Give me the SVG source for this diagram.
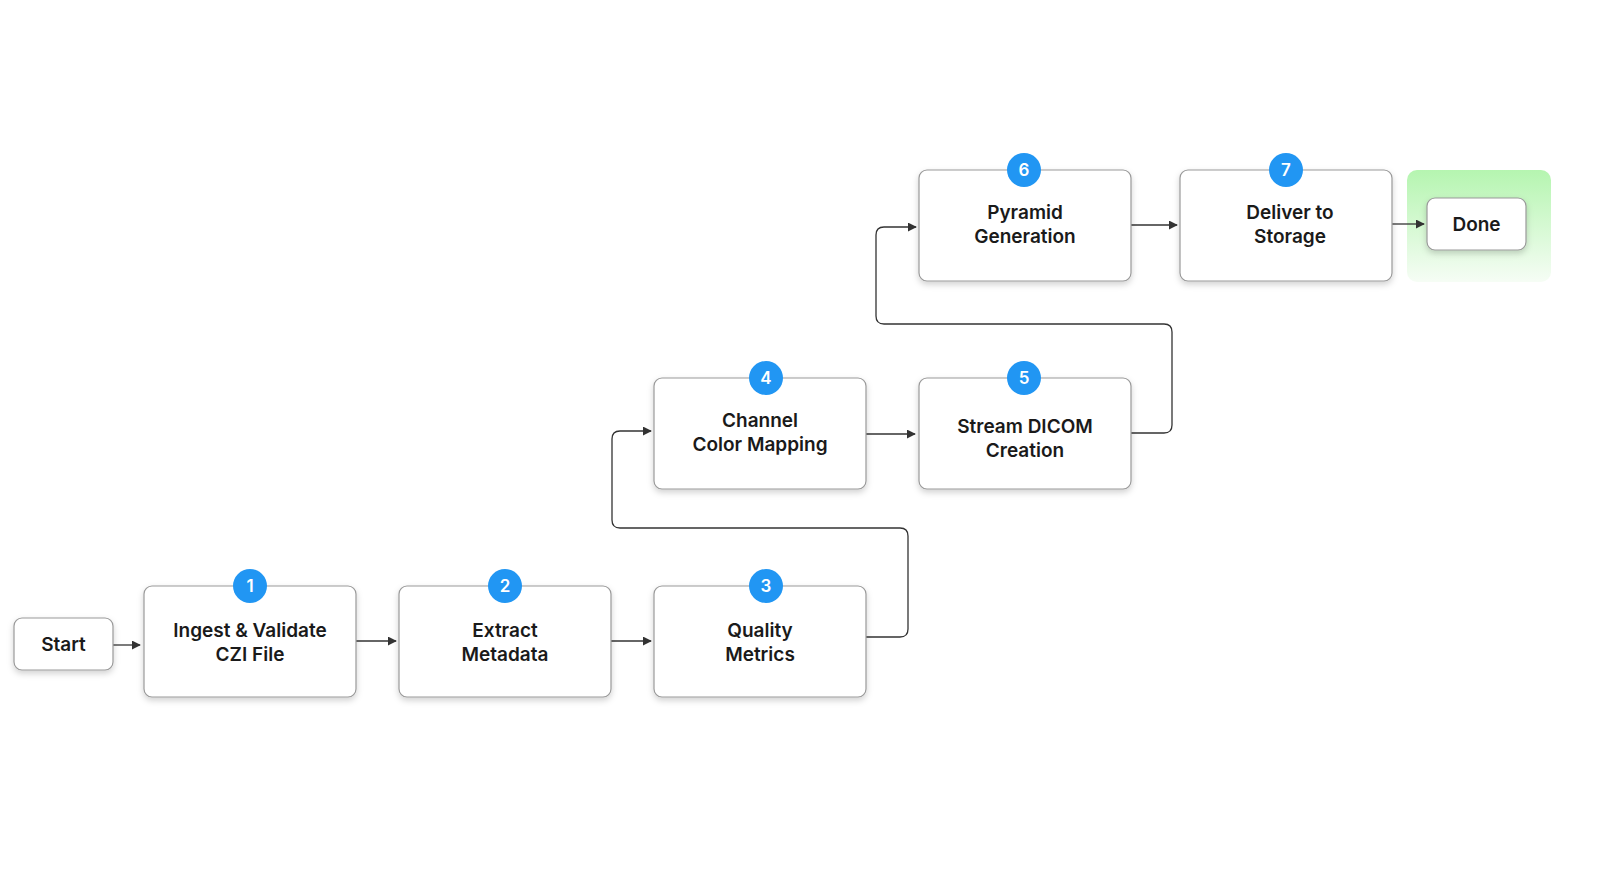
<svg xmlns="http://www.w3.org/2000/svg" width="1600" height="886" viewBox="0 0 1600 886">
<defs>
<marker id="ah" viewBox="0 0 10 10" refX="9" refY="5" markerWidth="9" markerHeight="9" markerUnits="userSpaceOnUse" orient="auto"><path d="M0,0 L10,5 L0,10 z" fill="#333"/></marker>
<linearGradient id="gr" x1="0" y1="0" x2="0" y2="1"><stop offset="0" stop-color="#b5f5b0"/><stop offset="1" stop-color="#f6fdf5"/></linearGradient>
<filter id="sh" x="-20%" y="-20%" width="140%" height="150%"><feDropShadow dx="0" dy="3" stdDeviation="3" flood-color="#000" flood-opacity="0.18"/></filter>
</defs>
<style>
.box{fill:#fff;stroke:#999;stroke-width:1.2;filter:url(#sh)}
.t{font-family:Inter,"Noto Sans",sans-serif;font-size:19px;font-weight:600;fill:#1a1a1a;text-anchor:middle}
.b{fill:#2196F3}
.bt{font-family:Inter,"Noto Sans",sans-serif;font-size:17px;font-weight:600;fill:#fff;text-anchor:middle}
.c{fill:none;stroke:#333;stroke-width:1.3;marker-end:url(#ah)}
</style>
<rect width="1600" height="886" fill="#fff"/>
<rect x="1407" y="170" width="144" height="112" rx="10" fill="url(#gr)"/>
<g id="connectors">
<path class="c" d="M113,645 H140"/>
<path class="c" d="M356,641 H396"/>
<path class="c" d="M611,641 H651"/>
<path class="c" d="M866,637 H900 Q908,637 908,629 V536 Q908,528 900,528 H620 Q612,528 612,520 V439 Q612,431 620,431 H651"/>
<path class="c" d="M866,434 H915"/>
<path class="c" d="M1131,433 H1164 Q1172,433 1172,425 V332 Q1172,324 1164,324 H884 Q876,324 876,316 V235 Q876,227 884,227 H916"/>
<path class="c" d="M1131,225 H1177"/>
<path class="c" d="M1392,224 H1424"/>
</g>
<g id="start"><rect class="box" x="14" y="618" width="99" height="52" rx="8"/><text class="t" x="63.5" y="651">Start</text></g>
<g id="n1"><rect class="box" x="144" y="586" width="212" height="111" rx="8"/><text class="t" x="250" y="637">Ingest &amp; Validate</text><text class="t" x="250" y="661">CZI File</text><circle class="b" cx="250" cy="586" r="17"/><text class="bt" x="250" y="592">1</text></g>
<g id="n2"><rect class="box" x="399" y="586" width="212" height="111" rx="8"/><text class="t" x="505" y="637">Extract</text><text class="t" x="505" y="661">Metadata</text><circle class="b" cx="505" cy="586" r="17"/><text class="bt" x="505" y="592">2</text></g>
<g id="n3"><rect class="box" x="654" y="586" width="212" height="111" rx="8"/><text class="t" x="760" y="637">Quality</text><text class="t" x="760" y="661">Metrics</text><circle class="b" cx="766" cy="586" r="17"/><text class="bt" x="766" y="592">3</text></g>
<g id="n4"><rect class="box" x="654" y="378" width="212" height="111" rx="8"/><text class="t" x="760" y="427">Channel</text><text class="t" x="760" y="451">Color Mapping</text><circle class="b" cx="766" cy="378" r="17"/><text class="bt" x="766" y="384">4</text></g>
<g id="n5"><rect class="box" x="919" y="378" width="212" height="111" rx="8"/><text class="t" x="1025" y="433">Stream DICOM</text><text class="t" x="1025" y="457">Creation</text><circle class="b" cx="1024" cy="378" r="17"/><text class="bt" x="1024" y="384">5</text></g>
<g id="n6"><rect class="box" x="919" y="170" width="212" height="111" rx="8"/><text class="t" x="1025" y="219">Pyramid</text><text class="t" x="1025" y="243">Generation</text><circle class="b" cx="1024" cy="170" r="17"/><text class="bt" x="1024" y="176">6</text></g>
<g id="n7"><rect class="box" x="1180" y="170" width="212" height="111" rx="8"/><text class="t" x="1290" y="219">Deliver to</text><text class="t" x="1290" y="243">Storage</text><circle class="b" cx="1286" cy="170" r="17"/><text class="bt" x="1286" y="176">7</text></g>
<g id="done"><rect class="box" x="1427" y="198" width="99" height="52" rx="8"/><text class="t" x="1476.5" y="231">Done</text></g>
</svg>
